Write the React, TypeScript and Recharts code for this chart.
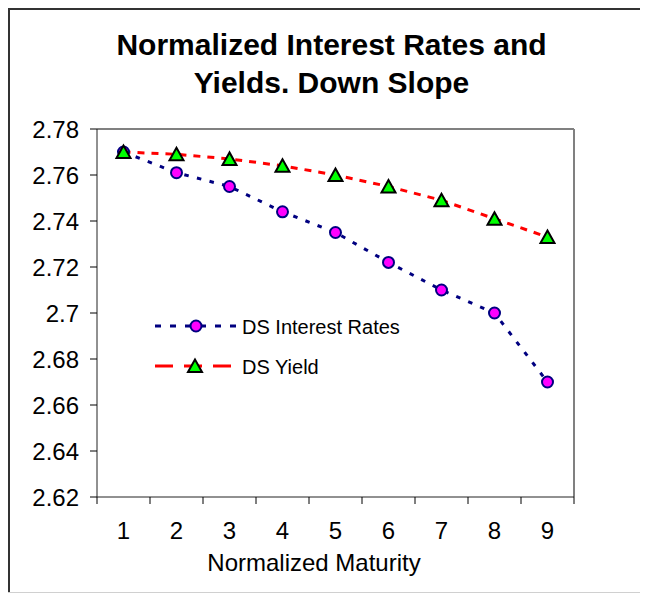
import React from 'react';
import { LineChart, Line, XAxis, YAxis, ReferenceLine, Legend } from 'recharts';

const FONT = '"Liberation Sans", Arial, sans-serif';

// values
const maturity = [1, 2, 3, 4, 5, 6, 7, 8, 9];
const interestRates = [2.77, 2.761, 2.755, 2.744, 2.735, 2.722, 2.71, 2.7, 2.67];
const yields = [2.77, 2.769, 2.767, 2.764, 2.76, 2.755, 2.749, 2.741, 2.733];
const yTicks = [2.62, 2.64, 2.66, 2.68, 2.7, 2.72, 2.74, 2.76, 2.78];

const data = maturity.map((m, i) => ({ m, rates: interestRates[i], yld: yields[i] }));

// labels sit on the categories, tick marks sit between them
const xTicks = [...maturity.map((m) => m - 0.5), 9.5, ...maturity].sort((a, b) => a - b);

const CircleDot = (props: any) => {
  const { cx, cy } = props;
  if (cx == null || cy == null) return null;
  return <circle cx={cx} cy={cy} r={5.5} fill="#FF00FF" stroke="#000080" strokeWidth={2} />;
};

const TriangleDot = (props: any) => {
  const { cx, cy } = props;
  if (cx == null || cy == null) return null;
  return (
    <polygon
      points={`${cx},${cy - 6.5} ${cx - 7},${cy + 6} ${cx + 7},${cy + 6}`}
      fill="#00FF00"
      stroke="#000"
      strokeWidth={2}
      strokeLinejoin="miter"
    />
  );
};

const XTick = (props: any) => {
  const { x, y, payload } = props;
  const v = payload.value;
  if (!Number.isInteger(v)) {
    return <line x1={x} y1={y - 7} x2={x} y2={y} stroke="#000" strokeWidth={1} />;
  }
  return (
    <text x={x} y={y + 35} textAnchor="middle" fontSize={24} fontFamily={FONT} fill="#000">
      {v}
    </text>
  );
};

const renderLegend = () => (
  <svg width={300} height={80} style={{ display: 'block' }}>
    <line x1={0} y1={16} x2={81} y2={16} stroke="#000080" strokeWidth={3} strokeDasharray="6 9" />
    <CircleDot cx={41} cy={16} />
    <text x={87} y={17} dy="0.36em" fontSize={20} fontFamily={FONT} fill="#000">
      DS Interest Rates
    </text>
    <line x1={0} y1={56} x2={76} y2={56} stroke="#FF0000" strokeWidth={3} strokeDasharray="18 11" />
    <TriangleDot cx={40} cy={56} />
    <text x={87} y={57} dy="0.36em" fontSize={20} fontFamily={FONT} fill="#000">
      DS Yield
    </text>
  </svg>
);

export default function App() {
  return (
    <div style={{ position: 'relative', width: 632, height: 586, fontFamily: FONT }}>
      <div
        style={{
          position: 'absolute',
          left: 0,
          top: 17.6,
          width: 647,
          textAlign: 'center',
          fontSize: 30,
          lineHeight: '38px',
          fontWeight: 'bold',
          color: '#000',
        }}
      >
        Normalized Interest Rates and
        <br />
        Yields. Down Slope
      </div>
      <div style={{ position: 'absolute', left: 0, top: -3 }}>
        <LineChart width={632} height={587} data={data} margin={{ top: 124, right: 66, left: 0, bottom: 0 }}>
          <XAxis
            dataKey="m"
            type="number"
            domain={[0.5, 9.5]}
            ticks={xTicks}
            interval={0}
            height={95}
            tickSize={7}
            tickMargin={0}
            tickLine={{ stroke: 'none' }}
            axisLine={{ stroke: '#222', strokeWidth: 1 }}
            tick={XTick}
            label={{
              content: () => (
                <text x={306} y={565.5} textAnchor="middle" fontSize={24} fontFamily={FONT} fill="#000">
                  Normalized Maturity
                </text>
              ),
            }}
          />
          <YAxis
            type="number"
            domain={[2.62, 2.78]}
            ticks={yTicks}
            interval={0}
            width={89}
            tickSize={7}
            tickMargin={11}
            allowDataOverflow
            tickFormatter={(v: number) => String(Number(v.toFixed(2)))}
            tick={{ fontSize: 24, fontFamily: FONT, fill: '#000' }}
            tickLine={{ stroke: '#000' }}
            axisLine={{ stroke: '#222', strokeWidth: 1 }}
          />
          <ReferenceLine y={2.78} stroke="#808080" strokeWidth={2} />
          <ReferenceLine x={9.5} stroke="#808080" strokeWidth={2} />
          <Legend
            layout="vertical"
            align="center"
            verticalAlign="middle"
            content={renderLegend}
            wrapperStyle={{ left: 147, top: 305, width: 300, height: 80 }}
          />
          <Line
            dataKey="rates"
            name="DS Interest Rates"
            type="linear"
            stroke="#000080"
            strokeWidth={3}
            strokeDasharray="4.5 8.5"
            dot={<CircleDot />}
            activeDot={false}
            isAnimationActive={false}
          />
          <Line
            dataKey="yld"
            name="DS Yield"
            type="linear"
            stroke="#FF0000"
            strokeWidth={3}
            strokeDasharray="7 7"
            dot={<TriangleDot />}
            activeDot={false}
            isAnimationActive={false}
          />
        </LineChart>
      </div>
      {/* chart frame: top, left and bottom edges */}
      <div style={{ position: 'absolute', zIndex: 5, left: 0, top: 0, width: 632, height: 2, background: '#333' }} />
      <div style={{ position: 'absolute', zIndex: 5, left: 0, top: 0, width: 2, height: 585, background: '#333' }} />
      <div style={{ position: 'absolute', zIndex: 5, left: 0, top: 584, width: 632, height: 1, background: '#d0d0d0' }} />
    </div>
  );
}
